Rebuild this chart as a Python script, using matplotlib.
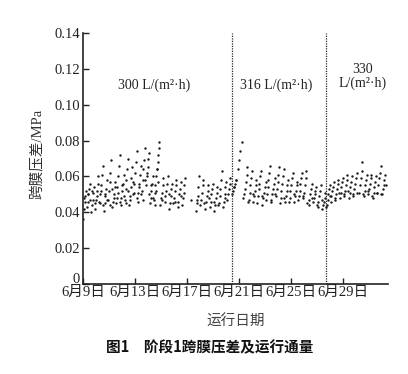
import matplotlib.pyplot as plt
from matplotlib.transforms import ScaledTranslation

plt.rcParams['font.family'] = ['Liberation Serif', 'Noto Sans CJK SC']
plt.rcParams['axes.unicode_minus'] = False

OUT_PNG = "out.png"

# x axis: running day counted from June 9 (0 = 6月9日)
tick_days = [0, 4, 8, 12, 16, 20]
tick_labels = ["6月9日", "6月13日", "6月17日", "6月21日", "6月25日", "6月29日"]

# stage boundaries (days) and flux labels
stage_bounds = [11.46, 18.7]
stage_labels = ["300 L/(m²·h)", "316 L/(m²·h)", "330\nL/(m²·h)"]
stage_label_pos = [(5.46, 0.111), (14.9, 0.111), (21.5, 0.1155)]

# stage 1: 300 L/(m2 h)
day_s1 = [
    0.00, 0.06, 0.12, 0.18, 0.24,
    0.30, 0.36, 0.42, 0.48, 0.54,
    0.62, 0.68, 0.74, 0.80, 0.86,
    0.95, 1.01, 1.07, 1.13, 1.19,
    1.28, 1.34, 1.40, 1.46, 1.52,
    1.60, 1.66, 1.72, 1.78, 1.84,
    1.92, 1.98, 2.04, 2.10, 2.16,
    2.25, 2.31, 2.37, 2.43, 2.49,
    2.58, 2.64, 2.70, 2.76, 2.82,
    2.90, 2.96, 3.02, 3.08, 3.14,
    3.22, 3.28, 3.34, 3.40, 3.46,
    3.55, 3.61, 3.67, 3.73, 3.79,
    3.88, 3.94, 4.00, 4.06, 4.12,
    4.20, 4.26, 4.32, 4.38, 4.44,
    4.52, 4.58, 4.64, 4.70, 4.76,
    4.85, 4.91, 4.97, 5.03, 5.09,
    5.15, 5.21, 5.27, 5.33, 5.39,
    5.45, 5.51, 5.57, 5.63, 5.69,
    5.72, 5.76, 5.80, 5.84, 5.88,
    5.95, 6.01, 6.07, 6.13, 6.19,
    6.28, 6.34, 6.40, 6.46, 6.52,
    6.62, 6.68, 6.74, 6.80, 6.86,
    6.95, 7.01, 7.07, 7.13, 7.19,
    7.28, 7.34, 7.40, 7.46, 7.52,
    7.62, 7.68, 7.74, 7.80, 7.86,
    8.30,
    8.70, 8.76, 8.82, 8.88, 8.94,
    9.02, 9.08, 9.14, 9.20, 9.26,
    9.40, 9.46, 9.52, 9.58, 9.64,
    9.75, 9.81, 9.87, 9.93, 9.99,
    10.10, 10.16, 10.22, 10.28, 10.34,
    10.45, 10.51, 10.57, 10.63, 10.69,
    10.78, 10.84, 10.90, 10.96, 11.02,
    11.10, 11.16, 11.22, 11.28, 11.34,
    # scattered readings between the cycles
    0.10, 0.40, 0.55, 0.70, 0.90, 1.05, 1.20, 1.35, 1.55, 1.70,
    1.88, 2.05, 2.20, 2.35, 2.55, 2.70, 2.85, 3.00, 3.18, 3.30,
    3.50, 3.65, 3.82, 3.95, 4.15, 4.30, 4.48, 4.60, 4.80, 4.95,
    5.10, 5.25, 5.40, 5.55, 5.65, 5.80,
    6.10, 6.60, 7.10, 7.55, 8.80, 9.30, 9.70, 10.05, 10.40, 10.90,
]
tmp_s1 = [
    0.036, 0.042, 0.046, 0.049, 0.052,
    0.043, 0.046, 0.050, 0.053, 0.056,
    0.040, 0.044, 0.047, 0.051, 0.054,
    0.042, 0.047, 0.052, 0.056, 0.060,
    0.045, 0.050, 0.055, 0.061, 0.066,
    0.041, 0.045, 0.049, 0.053, 0.058,
    0.047, 0.052, 0.057, 0.062, 0.069,
    0.043, 0.046, 0.050, 0.054, 0.057,
    0.048, 0.054, 0.060, 0.066, 0.072,
    0.044, 0.048, 0.052, 0.056, 0.061,
    0.047, 0.053, 0.058, 0.064, 0.070,
    0.044, 0.049, 0.054, 0.059, 0.065,
    0.050, 0.056, 0.062, 0.068, 0.074,
    0.046, 0.051, 0.056, 0.061, 0.066,
    0.052, 0.058, 0.064, 0.069, 0.076,
    0.055, 0.060, 0.065, 0.070, 0.073,
    0.045, 0.048, 0.052, 0.056, 0.060,
    0.047, 0.051, 0.055, 0.060, 0.064,
    0.064, 0.068, 0.072, 0.076, 0.079,
    0.044, 0.048, 0.051, 0.055, 0.059,
    0.046, 0.049, 0.052, 0.056, 0.060,
    0.042, 0.045, 0.049, 0.053, 0.056,
    0.045, 0.048, 0.052, 0.055, 0.058,
    0.043, 0.046, 0.050, 0.053, 0.057,
    0.044, 0.048, 0.051, 0.055, 0.059,
    0.047,
    0.041, 0.045, 0.049, 0.054, 0.060,
    0.044, 0.047, 0.051, 0.055, 0.058,
    0.042, 0.046, 0.049, 0.052, 0.055,
    0.043, 0.046, 0.050, 0.053, 0.056,
    0.041, 0.044, 0.048, 0.051, 0.054,
    0.045, 0.049, 0.053, 0.058, 0.063,
    0.043, 0.046, 0.050, 0.054, 0.057,
    0.047, 0.050, 0.053, 0.056, 0.059,
    # scattered readings between the cycles
    0.048, 0.050, 0.047, 0.052, 0.045, 0.049, 0.046, 0.052, 0.044, 0.050,
    0.047, 0.044, 0.053, 0.048, 0.045, 0.051, 0.046, 0.055, 0.049, 0.045,
    0.052, 0.047, 0.057, 0.051, 0.048, 0.054, 0.050, 0.047, 0.058, 0.062,
    0.050, 0.055, 0.048, 0.044, 0.052, 0.057,
    0.047, 0.050, 0.046, 0.049, 0.047, 0.045, 0.048, 0.046, 0.044, 0.048,
]

# stage 2: 316 L/(m2 h)
day_s2 = [
    11.50, 11.56, 11.62, 11.68, 11.74,
    11.80, 11.90, 12.00, 12.10, 12.20,
    12.40, 12.46, 12.52, 12.58, 12.64,
    12.75, 12.81, 12.87, 12.93, 12.99,
    13.10, 13.16, 13.22, 13.28, 13.34,
    13.45, 13.51, 13.57, 13.63, 13.69,
    13.80, 13.86, 13.92, 13.98, 14.04,
    14.15, 14.21, 14.27, 14.33, 14.39,
    14.50, 14.56, 14.62, 14.68, 14.74,
    14.85, 14.91, 14.97, 15.03, 15.09,
    15.20, 15.26, 15.32, 15.38, 15.44,
    15.55, 15.61, 15.67, 15.73, 15.79,
    15.90, 15.96, 16.02, 16.08, 16.14,
    16.25, 16.31, 16.37, 16.43, 16.49,
    16.60, 16.66, 16.72, 16.78, 16.84,
    16.95, 17.01, 17.07, 17.13, 17.19,
    17.35, 17.41, 17.47, 17.53, 17.59,
    17.70, 17.76, 17.82, 17.88, 17.94,
    18.05, 18.11, 18.17, 18.23, 18.29,
    18.40, 18.46, 18.52, 18.58, 18.64,
    # scattered readings between the cycles
    11.65, 12.30, 12.70, 13.05, 13.40, 13.75, 14.10, 14.45, 14.80, 15.15,
    15.50, 15.85, 16.20, 16.55, 16.90, 17.25, 17.65, 18.00, 18.35, 18.68,
]
tmp_s2 = [
    0.050, 0.052, 0.054, 0.056, 0.058,
    0.058, 0.064, 0.069, 0.074, 0.079,
    0.050, 0.053, 0.057, 0.061, 0.065,
    0.047, 0.051, 0.055, 0.059, 0.063,
    0.046, 0.049, 0.052, 0.055, 0.058,
    0.049, 0.053, 0.056, 0.060, 0.063,
    0.044, 0.048, 0.051, 0.054, 0.057,
    0.050, 0.054, 0.058, 0.062, 0.066,
    0.047, 0.050, 0.053, 0.056, 0.059,
    0.049, 0.053, 0.057, 0.061, 0.065,
    0.048, 0.052, 0.056, 0.060, 0.064,
    0.046, 0.049, 0.052, 0.055, 0.058,
    0.048, 0.052, 0.055, 0.059, 0.062,
    0.046, 0.049, 0.052, 0.055, 0.057,
    0.049, 0.052, 0.056, 0.059, 0.062,
    0.048, 0.051, 0.055, 0.059, 0.063,
    0.044, 0.047, 0.050, 0.053, 0.056,
    0.046, 0.048, 0.050, 0.052, 0.054,
    0.043, 0.046, 0.049, 0.052, 0.055,
    0.042, 0.044, 0.046, 0.048, 0.051,
    # scattered readings between the cycles
    0.054, 0.048, 0.046, 0.050, 0.045, 0.049, 0.047, 0.046, 0.050, 0.045,
    0.048, 0.046, 0.050, 0.047, 0.049, 0.045, 0.048, 0.044, 0.047, 0.043,
]

# stage 3: 330 L/(m2 h)
day_s3 = [
    18.75, 18.81, 18.87, 18.93, 18.99,
    19.05, 19.11, 19.17, 19.23, 19.29,
    19.40, 19.46, 19.52, 19.58, 19.64,
    19.75, 19.81, 19.87, 19.93, 19.99,
    20.10, 20.16, 20.22, 20.28, 20.34,
    20.45, 20.51, 20.57, 20.63, 20.69,
    20.80, 20.86, 20.92, 20.98, 21.04,
    21.25, 21.31, 21.37, 21.43, 21.49,
    21.60, 21.66, 21.72, 21.78, 21.84,
    21.95, 22.01, 22.07, 22.13, 22.19,
    22.30, 22.36, 22.42, 22.48, 22.54,
    22.65, 22.71, 22.77, 22.83, 22.89,
    23.00, 23.06, 23.12, 23.18, 23.24,
    # scattered readings between the cycles
    19.00, 19.35, 19.70, 20.05, 20.40, 20.75, 21.10, 21.55, 21.90, 22.25,
    22.60, 22.95, 23.28,
]
tmp_s3 = [
    0.044, 0.047, 0.050, 0.053, 0.055,
    0.046, 0.049, 0.052, 0.054, 0.057,
    0.047, 0.050, 0.053, 0.056, 0.058,
    0.048, 0.051, 0.054, 0.057, 0.059,
    0.049, 0.052, 0.055, 0.058, 0.061,
    0.048, 0.051, 0.054, 0.057, 0.060,
    0.050, 0.053, 0.056, 0.059, 0.062,
    0.051, 0.055, 0.059, 0.063, 0.068,
    0.049, 0.052, 0.055, 0.058, 0.061,
    0.050, 0.053, 0.056, 0.059, 0.061,
    0.048, 0.051, 0.054, 0.057, 0.060,
    0.051, 0.055, 0.059, 0.062, 0.066,
    0.050, 0.053, 0.055, 0.058, 0.061,
    # scattered readings between the cycles
    0.049, 0.048, 0.051, 0.050, 0.052, 0.049, 0.051, 0.050, 0.052, 0.049,
    0.051, 0.050, 0.055,
]


def main():
    fig = plt.figure(figsize=(4.08, 3.74), dpi=100)
    ax = fig.add_axes([0.2034, 0.2406, 0.7475, 0.6711])

    for d, t in [(day_s1, tmp_s1), (day_s2, tmp_s2), (day_s3, tmp_s3)]:
        ax.scatter(d, t, s=3, color="#1a1a1a", marker="o", linewidths=0)

    for b in stage_bounds:
        ax.axvline(b, color="#222222", linestyle=(0, (1, 1)), linewidth=0.9)

    for lab, (x, y) in zip(stage_labels, stage_label_pos):
        ax.text(x, y, lab, ha="center", va="center", fontsize=10,
                color="#222222", linespacing=1.05)

    ax.set_xlim(0, 23.46)
    ax.set_ylim(0, 0.14)
    ax.set_xticks(tick_days)
    ax.set_xticklabels(tick_labels)
    yt = [0, 0.02, 0.04, 0.06, 0.08, 0.10, 0.12, 0.14]
    ax.set_yticks(yt)
    ax.set_yticklabels(["0"] + [f"{v:.2f}" for v in yt[1:]])

    ax.spines["top"].set_visible(False)
    ax.spines["right"].set_visible(False)
    for s in ("left", "bottom"):
        ax.spines[s].set_linewidth(1.2)
        ax.spines[s].set_color("#222222")
    ax.tick_params(direction="in", length=4, width=1.0, labelsize=10.5,
                   colors="#222222")
    ax.tick_params(axis="y", pad=2)
    ax.tick_params(axis="x", pad=1)

    # lift the "0" label a little so it sits above the date labels
    zero_lab = ax.get_yticklabels()[0]
    zero_lab.set_transform(zero_lab.get_transform()
                           + ScaledTranslation(0, 4 / 72, fig.dpi_scale_trans))

    ax.set_ylabel("跨膜压差/MPa", fontsize=10.5, color="#333333")
    ax.yaxis.set_label_coords(-0.125, 0.52)
    ax.set_xlabel("运行日期", fontsize=10.5, color="#444444", labelpad=12)

    fig.text(0.515, 0.072, "图1\u3000阶段1跨膜压差及运行通量", ha="center",
             va="center", fontsize=10.5, fontweight="bold",
             family=["Noto Sans CJK SC"], color="#111111")

    fig.savefig(OUT_PNG, dpi=100)
    plt.close(fig)


if __name__ == "__main__":
    main()
